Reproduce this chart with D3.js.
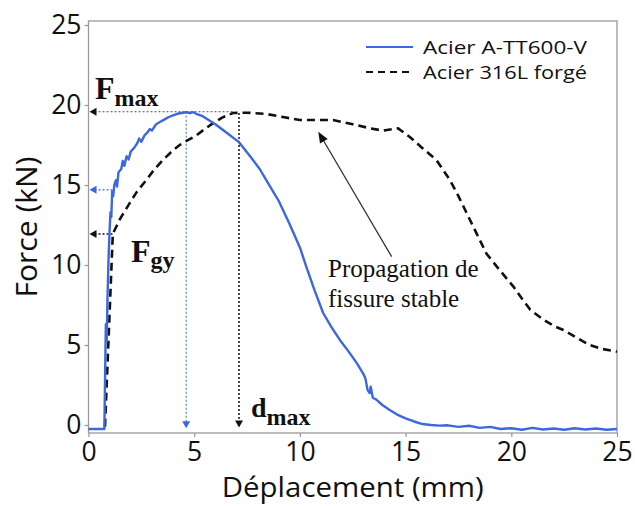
<!DOCTYPE html>
<html><head><meta charset="utf-8">
<script src="https://cdn.jsdelivr.net/npm/d3@7"></script>
<style>body{margin:0;background:#fff}svg{display:block}</style>
</head><body>
<svg id="c" width="635" height="506"></svg>
<script>
// ---- data ----
const xTicks = [0, 5, 10, 15, 20, 25];
const yTicks = [0, 5, 10, 15, 20, 25];
const seriesNames = ["Acier A-TT600-V", "Acier 316L forgé"];
const xTitle = "Déplacement (mm)";
const yTitle = "Force (kN)";

const blueX = [0,0.75,0.82,0.86,0.9,0.95,1.0,1.04,1.08,1.12,1.17,1.22,1.3,1.35,1.42,1.55,1.62,1.7,1.8,1.9,2.0,2.15,2.3,2.4,2.5,2.65,2.8,2.9,3.0,3.2,3.4,3.6,3.8,4.0,4.2,4.4,4.6,4.8,4.95,5.1,5.4,5.7,6.0,6.3,6.6,6.9,7.1,7.4,7.7,8.1,8.5,9.0,9.5,10.0,10.3,10.7,11.1,11.5,11.9,12.3,12.7,13.0,13.1,13.2,13.3,13.35,13.45,13.6,13.9,14.25,14.6,15.0,15.4,15.8,16.2,16.6,17.0,17.5,18.0,18.5,19.0,19.5,20.0,20.5,21.0,21.5,22.0,22.5,23.0,23.5,24.0,24.5,25.0];
const blueY = [-0.25,-0.25,6.3,5.2,8.0,10.5,12.2,13.3,13.0,14.6,14.3,15.0,15.3,14.9,15.8,16.0,16.5,16.2,16.8,16.6,17.1,17.3,17.6,17.9,17.7,18.1,18.3,18.5,18.4,18.8,18.95,19.1,19.25,19.35,19.45,19.5,19.55,19.5,19.55,19.45,19.3,19.05,18.8,18.5,18.2,17.9,17.7,17.2,16.7,16.0,15.1,14.0,12.6,11.1,9.9,8.4,7.0,6.1,5.3,4.6,3.85,3.2,2.9,2.2,2.0,2.4,1.7,1.6,1.25,0.94,0.65,0.42,0.22,0.06,0.0,-0.04,-0.02,-0.12,-0.05,-0.18,-0.12,-0.25,-0.2,-0.3,-0.18,-0.28,-0.22,-0.3,-0.2,-0.28,-0.22,-0.3,-0.25];

const blackX = [0.78,1.15,1.5,1.94,2.3,2.73,3.1,3.52,3.9,4.31,4.7,5.1,5.5,5.88,6.3,6.83,7.5,8.41,9.2,10.0,10.8,11.57,12.5,13.3,13.93,14.65,15.2,15.8,16.46,17.1,17.5,18.2,18.83,19.5,20.1,20.5,20.9,21.5,22.0,22.46,23.1,23.7,24.3,25.0];
const blackY = [-0.1,11.95,12.9,13.85,14.6,15.3,15.95,16.56,17.05,17.5,17.8,18.1,18.5,18.85,19.2,19.5,19.52,19.44,19.25,19.06,19.06,19.06,18.8,18.55,18.4,18.54,18.0,17.3,16.56,15.3,14.3,12.4,10.7,9.6,8.65,7.9,7.2,6.6,6.2,5.94,5.45,5.0,4.75,4.58];

// annotation values
const fMax = 19.58, fGyBlue = 14.7, fGyBlack = 11.94, yieldX = 1.15;
const dMaxBlue = 4.62, dMaxBlack = 7.12, dMaxBlackTop = 19.5;
const arrowFrom = [14.34, 10.52], arrowTo = [10.87, 18.33];

// ---- drawing ----
const svg = d3.select("#c");
const x = d3.scaleLinear([0, 25], [88.5, 617]);
const y = d3.scaleLinear([-0.5, 25.25], [433, 21]);
const BLUE = "#3c67de";
const SANS = "'Open Sans', sans-serif";
const SERIF = "'Liberation Serif', 'Times New Roman', serif";

// axes
const gx = svg.append("g").attr("transform", `translate(0,${y(-0.5)})`)
  .call(d3.axisBottom(x).tickValues(xTicks).tickSize(4).tickPadding(5).tickFormat(d3.format("d")));
const gy = svg.append("g").attr("transform", `translate(${x(0)},0)`)
  .call(d3.axisLeft(y).tickValues(yTicks).tickSize(4).tickPadding(3).tickFormat(d3.format("d")));
[gx, gy].forEach(g => {
  g.select(".domain").remove();
  g.selectAll(".tick line").attr("stroke", "#999").attr("stroke-width", 1.2);
  g.selectAll("text").attr("font-family", SANS).attr("font-size", 26.5).attr("fill", "#111");
});
// frame
svg.append("rect").attr("x", x(0)).attr("y", y(25.25))
  .attr("width", x(25) - x(0)).attr("height", y(-0.5) - y(25.25))
  .attr("fill", "none").attr("stroke", "#9a9a9a").attr("stroke-width", 1.3);

// axis titles
svg.append("text").attr("x", (x(0) + x(25)) / 2).attr("y", 497)
  .attr("text-anchor", "middle").attr("font-family", SANS).attr("font-size", 27.5).attr("fill", "#111")
  .attr("textLength", 262).attr("lengthAdjust", "spacingAndGlyphs")
  .text(xTitle);
svg.append("text").attr("transform", `translate(37,${(y(-0.5) + y(25.25)) / 2}) rotate(-90)`)
  .attr("text-anchor", "middle").attr("font-family", SANS).attr("font-size", 30).attr("fill", "#111")
  .text(yTitle);

// annotation guide lines
function tri(g, px, py, dir, color) {
  const s = 7, h = 4;
  let pts;
  if (dir === "left") pts = [[px, py], [px + s, py - h], [px + s, py + h]];
  else pts = [[px, py], [px - h, py - s], [px + h, py - s]];
  g.append("path").attr("d", "M" + pts.map(p => p.join(",")).join("L") + "Z").attr("fill", color);
}
const ann = svg.append("g");
ann.append("line").attr("x1", x(0) + 6).attr("x2", x(6.83)).attr("y1", y(fMax)).attr("y2", y(fMax))
  .attr("stroke", "#555").attr("stroke-width", 1).attr("stroke-dasharray", "2,2");
tri(ann, x(0) + 1, y(fMax), "left", "#111");
ann.append("line").attr("x1", x(0) + 6).attr("x2", x(yieldX)).attr("y1", y(fGyBlue)).attr("y2", y(fGyBlue))
  .attr("stroke", BLUE).attr("stroke-width", 1.2).attr("stroke-dasharray", "2,2");
tri(ann, x(0) + 1, y(fGyBlue), "left", BLUE);
ann.append("line").attr("x1", x(0) + 6).attr("x2", x(yieldX)).attr("y1", y(fGyBlack)).attr("y2", y(fGyBlack))
  .attr("stroke", "#111").attr("stroke-width", 1.5).attr("stroke-dasharray", "2,2");
tri(ann, x(0) + 1, y(fGyBlack), "left", "#111");
ann.append("line").attr("x1", x(dMaxBlue)).attr("x2", x(dMaxBlue)).attr("y1", y(fMax)).attr("y2", y(-0.2) - 6)
  .attr("stroke", BLUE).attr("stroke-width", 1).attr("stroke-dasharray", "2,2");
tri(ann, x(dMaxBlue), y(-0.2), "down", BLUE);
ann.append("line").attr("x1", x(dMaxBlack)).attr("x2", x(dMaxBlack)).attr("y1", y(dMaxBlackTop)).attr("y2", y(-0.15) - 6)
  .attr("stroke", "#111").attr("stroke-width", 1.5).attr("stroke-dasharray", "2,2");
tri(ann, x(dMaxBlack), y(-0.15), "down", "#111");

// curves
const line = d3.line().x(d => x(d[0])).y(d => y(d[1]));
svg.append("path").datum(blackX.map((v, i) => [v, blackY[i]])).attr("d", line)
  .attr("fill", "none").attr("stroke", "#111").attr("stroke-width", 2.6).attr("stroke-dasharray", "8,5");
svg.append("path").datum(blueX.map((v, i) => [v, blueY[i]])).attr("d", line)
  .attr("fill", "none").attr("stroke", BLUE).attr("stroke-width", 2.4).attr("stroke-linejoin", "round");

// propagation arrow
const ax1 = x(arrowFrom[0]), ay1 = y(arrowFrom[1]), ax2 = x(arrowTo[0]), ay2 = y(arrowTo[1]);
const ang = Math.atan2(ay2 - ay1, ax2 - ax1);
const hl = 11, hw = 4.5;
const bx = ax2 - hl * Math.cos(ang), by = ay2 - hl * Math.sin(ang);
svg.append("line").attr("x1", ax1).attr("y1", ay1).attr("x2", bx).attr("y2", by)
  .attr("stroke", "#333").attr("stroke-width", 1.3);
svg.append("path").attr("d", `M${ax2},${ay2}L${bx + hw * Math.sin(ang)},${by - hw * Math.cos(ang)}L${bx - hw * Math.sin(ang)},${by + hw * Math.cos(ang)}Z`)
  .attr("fill", "#111");

// serif annotation texts
function sub(px, py, main, s, mainSize, subSize, subDy) {
  const t = svg.append("text").attr("x", px).attr("y", py).attr("font-family", SERIF)
    .attr("font-weight", "bold").attr("fill", "#111");
  t.append("tspan").attr("font-size", mainSize).text(main);
  t.append("tspan").attr("font-size", subSize).attr("dy", subDy).text(s);
}
sub(95, 99, "F", "max", 32, 24, 7);
sub(131, 262, "F", "gy", 32, 24, 6);
sub(251, 417, "d", "max", 28, 24, 8);
const pt = svg.append("text").attr("font-family", SERIF).attr("font-size", 25).attr("fill", "#111");
pt.append("tspan").attr("x", 328).attr("y", 277).text("Propagation de");
pt.append("tspan").attr("x", 328).attr("y", 307).text("fissure stable");

// legend
const leg = svg.append("g");
const legStyles = [{ c: BLUE, dash: null, w: 2 }, { c: "#111", dash: "7,5", w: 2.2 }];
seriesNames.forEach((n, i) => {
  const ly = 47 + i * 25;
  leg.append("line").attr("x1", 366).attr("x2", 413).attr("y1", ly).attr("y2", ly)
    .attr("stroke", legStyles[i].c).attr("stroke-width", legStyles[i].w)
    .attr("stroke-dasharray", legStyles[i].dash);
  leg.append("text").attr("x", 423).attr("y", ly + 7).attr("font-family", SANS).attr("font-size", 18.5)
    .attr("fill", "#111").attr("textLength", 164).attr("lengthAdjust", "spacingAndGlyphs").text(n);
});
</script>
</body></html>
